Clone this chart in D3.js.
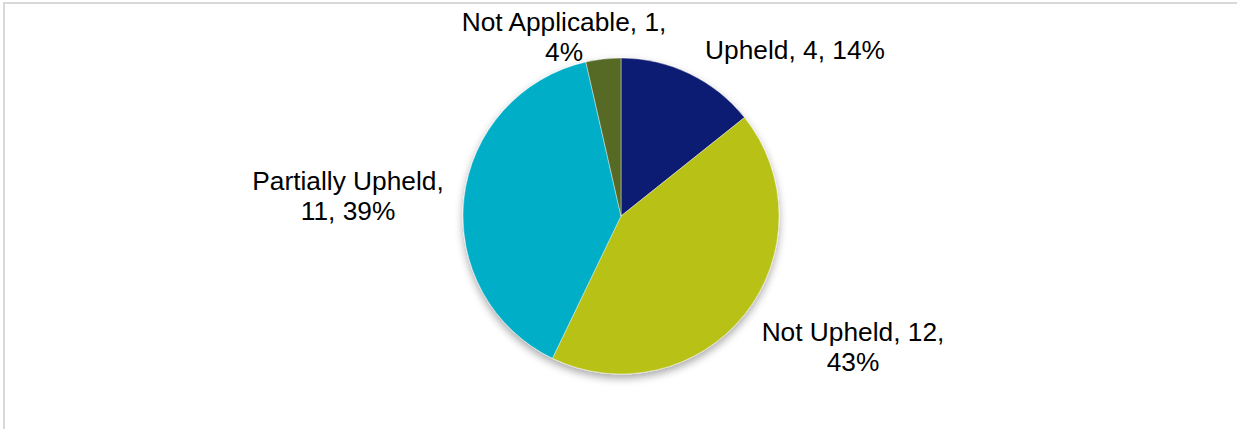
<!DOCTYPE html>
<html>
<head>
<meta charset="utf-8">
<script src="https://cdn.jsdelivr.net/npm/d3@7/dist/d3.min.js"></script>
<style>
  html, body { margin: 0; padding: 0; background: #ffffff; }
  svg { display: block; }
  text { font-family: "Liberation Sans", Arial, sans-serif; }
</style>
</head>
<body>
<svg id="chart" width="1237" height="429"></svg>
<script>
// Complaint outcomes
const categories = ["Upheld", "Not Upheld", "Partially Upheld", "Not Applicable"];
const counts = [4, 12, 11, 1];
const colors = ["#0f1a73", "#b8c116", "#00afc7", "#566a28"];

// Label anchor points (relative to the pie centre) and line breaks
const labelLayout = [
  { dx: 174, dy: -166, lines: 1 },
  { dx: 232, dy: 131, lines: 2 },
  { dx: -273, dy: -20, lines: 2 },
  { dx: -57, dy: -179, lines: 2 }
];

const width = 1237, height = 429;
const cx = 621, cy = 216, radius = 158;
const fontSize = 26.3, lineHeight = 30;

const svg = d3.select("#chart");

// chart area frame
svg.append("rect")
  .attr("x", 4).attr("y", 3)
  .attr("width", width + 10).attr("height", height + 10)
  .attr("fill", "#ffffff")
  .attr("stroke", "#d9d9d9")
  .attr("stroke-width", 2);

// soft drop shadow under the pie
const defs = svg.append("defs");
const f = defs.append("filter").attr("id", "shadow")
  .attr("x", "-20%").attr("y", "-20%").attr("width", "140%").attr("height", "140%");
f.append("feGaussianBlur").attr("in", "SourceAlpha").attr("stdDeviation", 4).attr("result", "b");
f.append("feOffset").attr("in", "b").attr("dx", 0).attr("dy", 4).attr("result", "o");
f.append("feComponentTransfer").attr("in", "o").attr("result", "s")
  .append("feFuncA").attr("type", "linear").attr("slope", 0.35);
const m = f.append("feMerge");
m.append("feMergeNode").attr("in", "s");
m.append("feMergeNode").attr("in", "SourceGraphic");

const data = categories.map((c, i) => ({ name: c, value: counts[i], color: colors[i], layout: labelLayout[i] }));
const total = d3.sum(counts);

const pie = d3.pie().value(d => d.value).sort(null);
const arc = d3.arc().innerRadius(0).outerRadius(radius);

const g = svg.append("g").attr("transform", `translate(${cx},${cy})`);

g.append("g").attr("filter", "url(#shadow)")
  .selectAll("path")
  .data(pie(data))
  .join("path")
  .attr("d", arc)
  .attr("fill", d => d.data.color)
  .attr("stroke", "#ffffff")
  .attr("stroke-width", 0.4);

// data labels: "Category, value, percent"
const labels = g.selectAll("text.lbl")
  .data(data)
  .join("text")
  .attr("class", "lbl")
  .attr("text-anchor", "middle")
  .attr("font-size", fontSize)
  .attr("fill", "#000000");

labels.each(function(d) {
  const pct = Math.round(d.value / total * 100) + "%";
  const full = `${d.name}, ${d.value}, ${pct}`;
  let lines;
  if (d.layout.lines === 1) {
    lines = [full];
  } else if (d.name === "Partially Upheld") {
    lines = [`${d.name},`, `${d.value}, ${pct}`];
  } else {
    lines = [`${d.name}, ${d.value},`, pct];
  }
  const t = d3.select(this);
  const top = d.layout.dy - (lines.length - 1) * lineHeight / 2;
  lines.forEach((ln, i) => {
    t.append("tspan")
      .attr("x", d.layout.dx)
      .attr("y", top + i * lineHeight + fontSize * 0.36)
      .text(ln);
  });
});
</script>
</body>
</html>
